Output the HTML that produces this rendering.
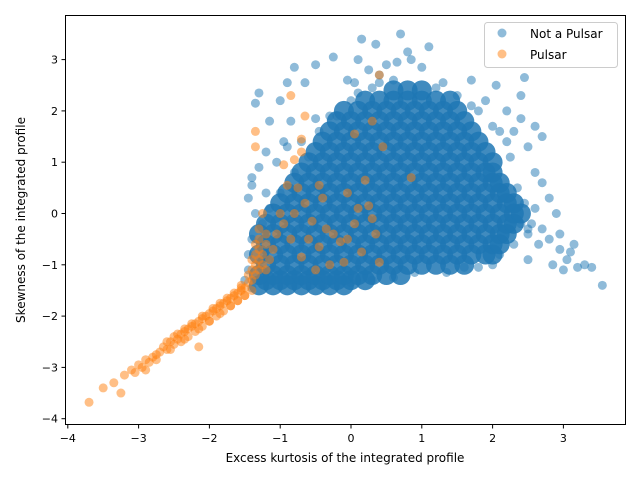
<!DOCTYPE html>
<html><head><meta charset="utf-8"><style>
html,body{margin:0;padding:0;background:#fff;}
svg{display:block;font-family:"DejaVu Sans","Liberation Sans",sans-serif;}
</style></head><body>
<svg id="chart" width="640" height="480" viewBox="0 0 640 480">
<rect x="0" y="0" width="640" height="480" fill="#fff"/>
<g id="marks"></g>
<rect x="65.5" y="15.5" width="560" height="409" fill="none" stroke="#000" stroke-width="1"/>
<g id="axes"></g>
<text x="345" y="462" text-anchor="middle" font-size="12">Excess kurtosis of the integrated profile</text>
<text transform="translate(25,220) rotate(-90)" text-anchor="middle" font-size="12">Skewness of the integrated profile</text>
<g>
<rect x="484.5" y="22.5" width="133" height="45" rx="3" fill="#fff" fill-opacity="0.8" stroke="#ccc"/>
<circle cx="502" cy="33" r="4.5" fill="#1f77b4" fill-opacity="0.5"/>
<text x="530" y="38" font-size="12">Not a Pulsar</text>
<circle cx="502" cy="54" r="4.5" fill="#ff7f0e" fill-opacity="0.5"/>
<text x="530" y="59" font-size="12">Pulsar</text>
</g>
</svg>
<script>
const xTicks = [-4,-3,-2,-1,0,1,2,3];
const yTicks = [-4,-3,-2,-1,0,1,2,3];
// dense core of "Not a Pulsar": rows of [y, x1, x2, ...]
const blueCoreRows = [
[-1.4,-1.3,-1.1,-0.9,-0.7,-0.5,-0.3,-0.1],
[-1.3,-1.2,-1.0,-0.8,-0.6,-0.4,-0.2,0.0,0.2],
[-1.2,-1.3,-1.1,-0.9,-0.7,-0.5,-0.3,-0.1,0.1,0.3,0.5,0.7],
[-1.0,-1.2,-1.0,-0.8,-0.6,-0.4,-0.2,0.0,0.2,0.4,0.6,0.8,1.0,1.2,1.4,1.6],
[-0.8,-1.3,-1.1,-0.9,-0.7,-0.5,-0.3,-0.1,0.1,0.3,0.5,0.7,0.9,1.1,1.3,1.5,1.7,1.9,2.0],
[-0.6,-1.2,-1.0,-0.8,-0.6,-0.4,-0.2,0.0,0.2,0.4,0.6,0.8,1.0,1.2,1.4,1.6,1.8,2.0,2.1],
[-0.4,-1.3,-1.1,-0.9,-0.7,-0.5,-0.3,-0.1,0.1,0.3,0.5,0.7,0.9,1.1,1.3,1.5,1.7,1.9,2.1,2.2],
[-0.2,-1.2,-1.0,-0.8,-0.6,-0.4,-0.2,0.0,0.2,0.4,0.6,0.8,1.0,1.2,1.4,1.6,1.8,2.0,2.2,2.3],
[0.0,-1.1,-0.9,-0.7,-0.5,-0.3,-0.1,0.1,0.3,0.5,0.7,0.9,1.1,1.3,1.5,1.7,1.9,2.1,2.3,2.4],
[0.2,-1.0,-0.8,-0.6,-0.4,-0.2,0.0,0.2,0.4,0.6,0.8,1.0,1.2,1.4,1.6,1.8,2.0,2.2,2.3],
[0.4,-0.9,-0.7,-0.5,-0.3,-0.1,0.1,0.3,0.5,0.7,0.9,1.1,1.3,1.5,1.7,1.9,2.1,2.2],
[0.6,-0.8,-0.6,-0.4,-0.2,0.0,0.2,0.4,0.6,0.8,1.0,1.2,1.4,1.6,1.8,2.0,2.1],
[0.8,-0.7,-0.5,-0.3,-0.1,0.1,0.3,0.5,0.7,0.9,1.1,1.3,1.5,1.7,1.9,2.0],
[1.0,-0.6,-0.4,-0.2,0.0,0.2,0.4,0.6,0.8,1.0,1.2,1.4,1.6,1.8,2.0],
[1.2,-0.5,-0.3,-0.1,0.1,0.3,0.5,0.7,0.9,1.1,1.3,1.5,1.7,1.9],
[1.4,-0.4,-0.2,0.0,0.2,0.4,0.6,0.8,1.0,1.2,1.4,1.6,1.8],
[1.6,-0.3,-0.1,0.1,0.3,0.5,0.7,0.9,1.1,1.3,1.5,1.7],
[1.8,-0.2,0.0,0.2,0.4,0.6,0.8,1.0,1.2,1.4,1.6],
[2.0,-0.1,0.1,0.3,0.5,0.7,0.9,1.1,1.3,1.5],
[2.2,0.2,0.4,0.6,0.8,1.0,1.2,1.4],
[2.4,0.6,0.8,1.0]
];
const blueSparseX = [0.7,0.15,0.35,-0.25,0.1,1.1,0.8,0.85,-0.5,0.5,1.0,-0.8,0.4,-0.05,0.05,0.25,0.65,1.3,1.7,2.05,2.45,2.4,1.9,2.2,2.4,2.6,2.7,2.3,2.5,2.2,
-1.3,-1.35,-0.9,-0.65,-1.0,-0.85,-0.5,-1.15,-0.95,-1.2,-1.05,-1.3,-1.4,-1.4,-1.45,-1.2,-1.35,-1.25,-1.4,-1.45,-1.45,-1.5,-1.4,-0.9,-0.7,
2.6,2.7,2.8,2.9,2.6,2.7,2.8,2.95,3.1,3.05,3.2,3.3,3.4,3.55,3.0,2.85,2.5,2.65,2.5,2.4,2.0,1.8,1.6,1.35,0.9,0.6,0.3,0.0,-0.4,2.1,2.3,2.55,2.95,3.15,
-0.3,0.0,0.3,0.6,1.2,1.5,1.8,2.1,2.25,2.35,2.45,2.5,-0.6,-0.8,-1.0,-1.15,-0.45,-0.2,0.1,0.4,1.7,2.0];
const blueSparseY = [3.5,3.4,3.3,3.05,3.0,3.25,3.15,3.0,2.9,2.9,2.85,2.85,2.7,2.6,2.55,2.8,2.95,2.55,2.6,2.5,2.65,2.3,2.2,2.0,1.85,1.7,1.5,1.6,1.3,1.4,
2.35,2.15,2.55,2.55,2.2,1.8,1.85,1.8,1.4,1.2,1.0,0.9,0.7,0.55,0.3,0.4,0.0,-0.2,-0.5,-0.8,-1.1,-1.3,-1.45,1.3,1.4,
0.8,0.6,0.3,0.0,0.1,-0.3,-0.5,-0.7,-0.75,-0.9,-1.05,-1.0,-1.05,-1.4,-1.1,-1.0,-0.9,-0.6,-0.4,-0.2,-1.0,-1.05,-1.05,-1.15,-1.15,-1.25,-1.3,-1.35,-1.4,-0.8,-0.6,-0.2,-0.4,-0.6,
1.9,2.2,2.45,2.6,2.45,2.3,2.0,1.6,1.1,0.5,0.2,-0.3,1.1,0.8,0.4,0.1,1.6,1.9,2.35,2.55,2.1,1.7];
const pulsarX = [-3.7,-3.5,-3.35,-3.25,-3.2,-3.1,-3.05,-2.95,-2.9,-2.85,-2.8,-2.75,-2.7,-2.65,-2.6,-2.55,-2.5,-2.5,-2.45,-2.4,-2.4,-2.35,-2.3,-2.3,-2.25,-2.2,-2.2,-2.15,-2.1,-2.1,-2.05,-2.0,-2.0,-1.95,-1.9,-1.9,-1.85,-1.8,-1.8,-1.75,-1.7,-1.7,-1.65,-1.6,-1.6,-1.55,-1.55,-1.5,-1.5,-1.45,-1.45,-1.4,-1.4,-1.4,-1.4,-1.35,-1.35,-1.35,-1.35,-1.3,-1.3,-1.3,-1.3,-1.3,-1.25,-1.25,-1.2,-2.9,-3.0,-2.75,-2.15,-1.2,-1.1,
-2.6,-2.45,-2.35,-2.25,-2.1,-1.95,-1.85,-1.75,-1.65,-1.55,-2.55,-2.35,-2.15,-2.0,-1.85,-1.7,-1.6,-1.5,
-0.85,-0.65,-0.7,-0.7,-1.35,-1.35,-0.95,-0.8,-0.9,-0.75,-0.45,-0.4,-0.65,-1.0,-0.8,-0.55,-0.35,-0.25,-0.95,-1.05,-0.85,-0.6,-0.45,-0.15,0.05,-0.05,0.1,0.25,0.15,0.35,0.4,-0.1,-0.3,0.05,0.3,0.45,0.2,0.3,-0.05,0.4,0.85,-1.25,-1.2,-1.15,-0.7,-0.5];
const pulsarY = [-3.68,-3.4,-3.3,-3.5,-3.15,-3.05,-3.1,-3.0,-2.85,-2.9,-2.8,-2.75,-2.7,-2.6,-2.65,-2.5,-2.55,-2.4,-2.45,-2.35,-2.5,-2.3,-2.4,-2.25,-2.2,-2.3,-2.15,-2.1,-2.2,-2.05,-2.0,-2.1,-1.95,-1.9,-2.0,-1.85,-1.8,-1.9,-1.75,-1.7,-1.8,-1.65,-1.6,-1.7,-1.55,-1.5,-1.4,-1.6,-1.45,-1.35,-1.2,-1.5,-1.3,-1.1,-0.9,-1.2,-1.0,-0.8,-0.6,-1.1,-0.9,-0.7,-0.5,-0.3,-1.0,-0.8,-0.4,-3.05,-2.95,-2.85,-2.6,-1.1,-0.7,
-2.5,-2.35,-2.25,-2.15,-2.0,-1.85,-1.75,-1.65,-1.55,-1.45,-2.65,-2.45,-2.25,-2.1,-1.95,-1.8,-1.7,-1.6,
2.3,1.9,1.45,1.2,1.6,1.3,0.95,1.05,0.55,0.5,0.55,0.3,0.2,0.0,0.0,-0.15,-0.3,-0.4,-0.2,-0.4,-0.5,-0.5,-0.65,-0.55,-0.2,-0.5,0.1,0.15,-0.75,-0.4,-0.95,-0.95,-1.0,1.55,1.8,1.3,0.65,-0.1,0.4,2.7,0.7,0.0,-0.6,-0.9,-0.85,-1.1];

const sx = v => 351 + v*70.8;
const sy = v => 213.5 - v*51.3;
const NS = 'http://www.w3.org/2000/svg';
const marks = document.getElementById('marks');
const axes = document.getElementById('axes');

function dot(x,y,r,color,op,name){
  const c = document.createElementNS(NS,'circle');
  c.setAttribute('cx',sx(x)); c.setAttribute('cy',sy(y)); c.setAttribute('r',r);
  c.setAttribute('fill',color); c.setAttribute('fill-opacity',op);
  
  
  marks.appendChild(c);
}
blueSparseX.forEach((x,i) => dot(x, blueSparseY[i], 4.5, '#1f77b4', 0.5, 'not-pulsar-point'));
blueCoreRows.forEach(row => {
  for (let i=1;i<row.length;i++) dot(row[i], row[0], 10, '#1f77b4', 0.85, 'not-pulsar-point');
});
pulsarX.forEach((x,i) => dot(x, pulsarY[i], 4.5, '#ff7f0e', 0.5, 'pulsar-point'));

xTicks.forEach(t => {
  const l = document.createElementNS(NS,'line');
  l.setAttribute('x1',sx(t)); l.setAttribute('x2',sx(t)); l.setAttribute('y1',424.5); l.setAttribute('y2',428.5);
  l.setAttribute('stroke','#000');
  
  
  axes.appendChild(l);
  const tx = document.createElementNS(NS,'text');
  tx.setAttribute('x',sx(t)); tx.setAttribute('y',442); tx.setAttribute('text-anchor','middle'); tx.setAttribute('font-size','11');
  tx.textContent = t < 0 ? '\u2212' + Math.abs(t) : String(t);
  
  
  axes.appendChild(tx);
});
yTicks.forEach(t => {
  const l = document.createElementNS(NS,'line');
  l.setAttribute('x1',61.5); l.setAttribute('x2',65.5); l.setAttribute('y1',sy(t)); l.setAttribute('y2',sy(t));
  l.setAttribute('stroke','#000');
  
  
  axes.appendChild(l);
  const tx = document.createElementNS(NS,'text');
  tx.setAttribute('x',58); tx.setAttribute('y',sy(t)+4); tx.setAttribute('text-anchor','end'); tx.setAttribute('font-size','11');
  tx.textContent = t < 0 ? '\u2212' + Math.abs(t) : String(t);
  
  
  axes.appendChild(tx);
});
</script>
</body></html>
